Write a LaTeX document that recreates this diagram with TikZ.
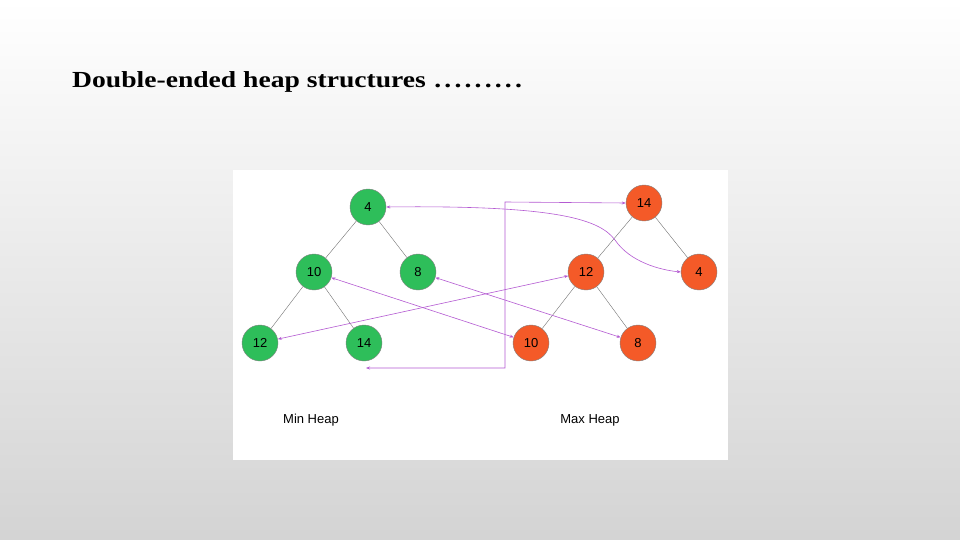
\documentclass[tikz,border=0pt]{standalone}
\usepackage{fontspec}
\setmainfont{Liberation Serif}
\newfontfamily\sansf{Liberation Sans}
\usetikzlibrary{arrows.meta}
\definecolor{gn}{RGB}{46,190,90}
\definecolor{og}{RGB}{244,90,40}
\definecolor{pu}{RGB}{180,90,210}
\begin{document}
\begin{tikzpicture}[x=1pt,y=-1pt,
  hn/.style={circle,minimum size=36pt,inner sep=0pt,draw=black!50,line width=0.4pt,font=\sansf\fontsize{13}{13}\selectfont},
  mn/.style={hn,fill=gn},
  xn/.style={hn,fill=og},
  ed/.style={draw=black!55,line width=0.4pt},
  ln/.style={draw=pu,line width=0.6pt,{Stealth[length=4pt,width=3pt]}-{Stealth[length=4pt,width=3pt]}}]
\shade[top color=white,bottom color=black!17] (0,0) rectangle (960,540);
\useasboundingbox (0,0) rectangle (960,540);
\fill[white] (233,170) rectangle (728,460);
\node[anchor=west,inner sep=0pt,font=\bfseries\fontsize{23}{23}\selectfont,xscale=1.2] (t) at (72,82) {Double-ended heap structures \hbox to 76pt{\leaders\hbox to 8.4pt{\hss.\hss}\hfill}};
\node[mn] (a4) at (368,207) {4};
\node[mn] (a10) at (314,272) {10};
\node[mn] (a8) at (418,272) {8};
\node[mn] (a12) at (260,343) {12};
\node[mn] (a14) at (364,343) {14};
\node[xn] (b14) at (644,203) {14};
\node[xn] (b12) at (586,272) {12};
\node[xn] (b4) at (699,272) {4};
\node[xn] (b10) at (531,343) {10};
\node[xn] (b8) at (638,343) {8};
\coordinate (c1) at (366,368);
\draw[ed] (a4)--(a10) (a4)--(a8) (a10)--(a12) (a10)--(a14);
\draw[ed] (b14)--(b12) (b14)--(b4) (b12)--(b10) (b12)--(b8);
\draw[ln] (a4.east) .. controls (560,205) and (600,220) .. (615,240) .. controls (630,262) and (660,270) .. (b4.west);
\draw[ln] (c1) -- (505,368) -- (505,202) -- (b14.west);
\draw[ln] (a10) -- (b10);
\draw[ln] (a8) -- (b8);
\draw[ln] (a12) -- (b12);
\node[font=\sansf\fontsize{13}{13}\selectfont] (l1) at (311,420) {Min Heap};
\node[font=\sansf\fontsize{13}{13}\selectfont] (l2) at (590,420) {Max Heap};
\end{tikzpicture}
\end{document}
